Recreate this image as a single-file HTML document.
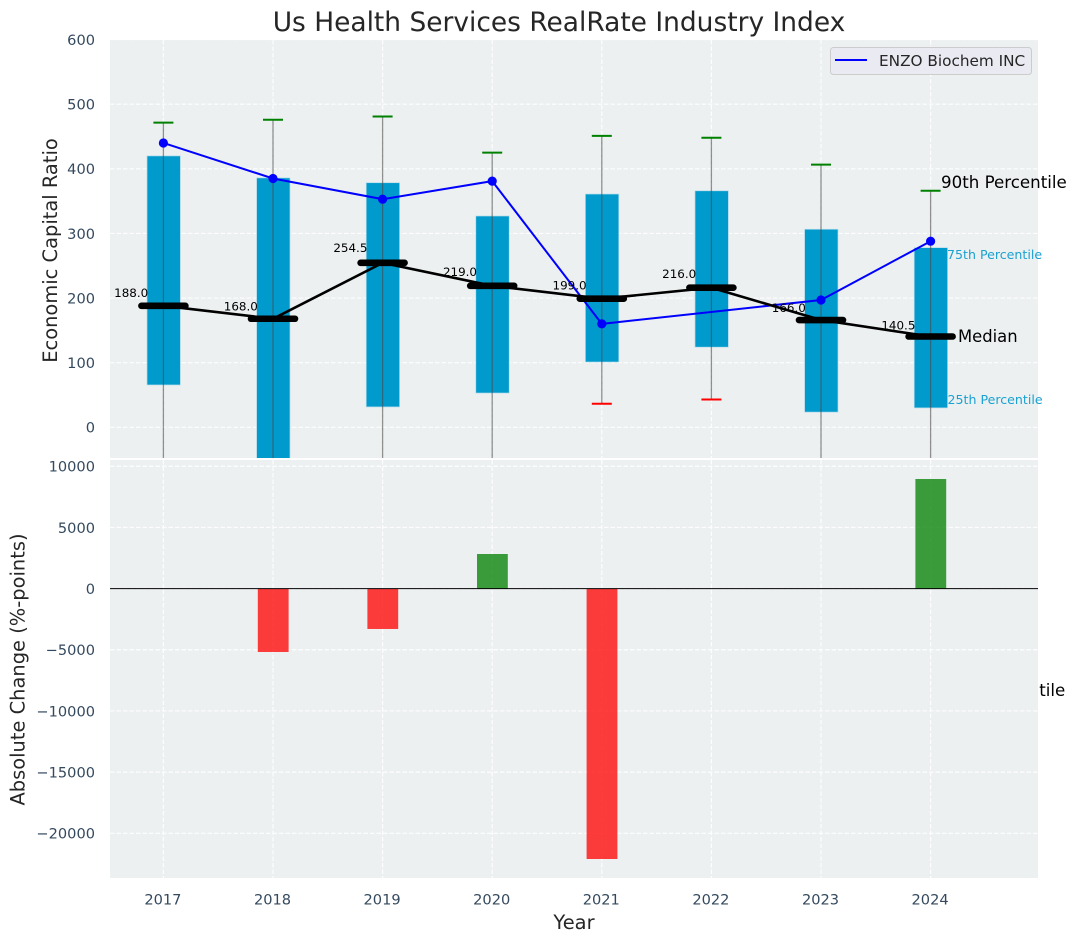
<!DOCTYPE html>
<html lang="en">
<head>
<meta charset="utf-8">
<title>Us Health Services RealRate Industry Index</title>
<style>
html,body{margin:0;padding:0;background:#fff;}
svg{display:block;font-family:"DejaVu Sans","Liberation Sans",sans-serif;}
.tick{fill:#34495e;font-size:14.58px;}
.axis-title{fill:#262626;font-size:19.44px;}
</style>
</head>
<body>
<svg id="chart" xmlns="http://www.w3.org/2000/svg" width="1076" height="942" viewBox="0 0 1076 942">
  <defs>
    <clipPath id="clip-top"><rect x="110" y="40" width="928" height="418"></rect></clipPath>
    <clipPath id="clip-bottom"><rect x="110" y="460" width="928" height="418"></rect></clipPath>
  </defs>
  <rect x="0" y="0" width="1076" height="942" fill="#ffffff"></rect>
  <text x="559" y="31" text-anchor="middle" font-size="26.45" fill="#262626">Us Health Services RealRate Industry Index</text>
  <rect x="110" y="40" width="928" height="418" fill="#ecf0f1"></rect>
  <g id="top-grid"></g>
  <g id="top-marks" clip-path="url(#clip-top)"></g>
  <g id="top-labels"></g>
  <text x="939.5" y="696" font-size="16.67" fill="#000000">10th Percentile</text>
  <rect x="110" y="460" width="928" height="418" fill="#ecf0f1"></rect>
  <g id="bottom-grid"></g>
  <g id="bottom-marks" clip-path="url(#clip-bottom)"></g>
  <line x1="110" x2="1038" y1="588.6" y2="588.6" stroke="#000000" stroke-width="1"></line>
  <g id="axis-labels"></g>
  <text class="axis-title" transform="translate(57,250.5) rotate(-90)" text-anchor="middle">Economic Capital Ratio</text>
  <text class="axis-title" transform="translate(24.5,669.5) rotate(-90)" text-anchor="middle">Absolute Change (%-points)</text>
  <text class="axis-title" x="574" y="929" text-anchor="middle">Year</text>
  <text x="941" y="188" font-size="16.67" fill="#000000">90th Percentile</text>
  <text x="947" y="259" font-size="12.6" fill="#1ba1d0">75th Percentile</text>
  <text x="958" y="342" font-size="16.4" fill="#000000">Median</text>
  <text x="947.5" y="404" font-size="12.6" fill="#1ba1d0">25th Percentile</text>
  <g>
    <rect x="830.5" y="47.5" width="201" height="27" rx="3" fill="#eaeaf2" stroke="#cccccc" stroke-width="1"></rect>
    <line x1="835" x2="867" y1="60" y2="60" stroke="#0000ff" stroke-width="2"></line>
    <text x="879" y="66" font-size="15.28" fill="#262626">ENZO Biochem INC</text>
  </g>
</svg>
<script>
const years = [2017, 2018, 2019, 2020, 2021, 2022, 2023, 2024];
const p90 = [471.5, 476, 481, 425, 451, 448, 406.5, 366];
const p75 = [420, 386, 378.5, 327, 361, 366, 306.5, 278];
const medians = [188, 168, 254.5, 219, 199, 216, 166, 140.5];
const p25 = [65.5, -70, 31.5, 53, 101, 124, 23.5, 30];
const p10 = [-90, -120, -85, -80, 36.5, 43, -70, -75];
const enzo = [440, 385, 353, 381, 160, null, 197, 288];
const changes = [null, -5180, -3300, 2828, -22100, null, null, 8958];
const topTicks = [0, 100, 200, 300, 400, 500, 600];
const bottomTicks = [-20000, -15000, -10000, -5000, 0, 5000, 10000];

const NS = 'http://www.w3.org/2000/svg';
const xScale = v => 163.4 + (v - 2017) * 109.6;
const yTop = v => 427.3 - v * 0.6462;
const yBottom = v => 588.6 - v * 0.012235;

function make(parent, tag, attrs, text) {
  const el = document.createElementNS(NS, tag);
  for (const k in attrs) el.setAttribute(k, attrs[k]);
  if (text !== undefined) el.textContent = text;
  parent.appendChild(el);
  return el;
}

const topGrid = document.getElementById('top-grid');
const bottomGrid = document.getElementById('bottom-grid');
const topMarks = document.getElementById('top-marks');
const bottomMarks = document.getElementById('bottom-marks');
const topLabels = document.getElementById('top-labels');
const axisLabels = document.getElementById('axis-labels');
const gridStyle = {stroke: '#ffffff', 'stroke-width': 1.2, 'stroke-dasharray': '4.5 2', opacity: 0.9};

topTicks.forEach(t => {
  const g = make(topGrid, 'line', Object.assign({x1: 110, x2: 1038, y1: yTop(t), y2: yTop(t)}, gridStyle));
  
  
  const lab = make(axisLabels, 'text', {class: 'tick', x: 95, y: yTop(t) + 5.4, 'text-anchor': 'end'}, String(t));
  
  
});
bottomTicks.forEach(t => {
  const g = make(bottomGrid, 'line', Object.assign({x1: 110, x2: 1038, y1: yBottom(t), y2: yBottom(t)}, gridStyle));
  
  
  const lab = make(axisLabels, 'text', {class: 'tick', x: 95, y: yBottom(t) + 5.4, 'text-anchor': 'end'}, String(t).replace('-', '\u2212'));
  
  
});

years.forEach(y => {
  const x = xScale(y);
  const g1 = make(topGrid, 'line', Object.assign({x1: x, x2: x, y1: 40, y2: 458}, gridStyle));
  
  
  const g2 = make(bottomGrid, 'line', Object.assign({x1: x, x2: x, y1: 460, y2: 878}, gridStyle));
  
  
  const lab = make(axisLabels, 'text', {class: 'tick', x: x - 0.5, y: 904.5, 'text-anchor': 'middle'}, String(y));
  
  
});

years.forEach((y, i) => {
  const x = xScale(y);
  const box = make(topMarks, 'rect', {x: x - 16.4, y: yTop(p75[i]), width: 33.4, height: yTop(p25[i]) - yTop(p75[i]), fill: '#009acd', stroke: '#b5dcea', 'stroke-width': 0.7});
  
  
  const whisker = make(topMarks, 'line', {x1: x, x2: x, y1: yTop(p90[i]), y2: yTop(p10[i]), stroke: '#4a4a4a', 'stroke-width': 1.3, opacity: 0.6});
  
  
  const capHigh = make(topMarks, 'line', {x1: x - 10, x2: x + 10, y1: yTop(p90[i]), y2: yTop(p90[i]), stroke: '#008000', 'stroke-width': 2});
  
  
  const capLow = make(topMarks, 'line', {x1: x - 10, x2: x + 10, y1: yTop(p10[i]), y2: yTop(p10[i]), stroke: '#ff0000', 'stroke-width': 2});
  
  
});

const enzoPts = years.map((y, i) => enzo[i] === null ? null : [xScale(y), yTop(enzo[i])]).filter(Boolean);
const enzoLine = make(topMarks, 'polyline', {points: enzoPts.map(p => p.join(',')).join(' '), fill: 'none', stroke: '#0000ff', 'stroke-width': 2});


enzoPts.forEach(p => {
  const dot = make(topMarks, 'circle', {cx: p[0], cy: p[1], r: 4.6, fill: '#0000ff'});
  
  
});

const medianLine = make(topMarks, 'polyline', {points: years.map((y, i) => xScale(y) + ',' + yTop(medians[i])).join(' '), fill: 'none', stroke: '#000000', 'stroke-width': 2.6});


years.forEach((y, i) => {
  const x = xScale(y);
  const bar = make(topMarks, 'line', {x1: x - 22, x2: x + 22, y1: yTop(medians[i]), y2: yTop(medians[i]), stroke: '#000000', 'stroke-width': 6.6, 'stroke-linecap': 'round'});
  
  
  const lab = make(topLabels, 'text', {x: x - 15.2, y: yTop(medians[i] * 1.05) - 2.6, 'text-anchor': 'end', 'font-size': 11.9, fill: '#000000'}, medians[i].toFixed(1));
  
  
});

years.forEach((y, i) => {
  if (changes[i] === null) return;
  const x = xScale(y);
  const top = Math.min(yBottom(0), yBottom(changes[i]));
  const h = Math.abs(yBottom(changes[i]) - yBottom(0));
  const color = changes[i] >= 0 ? '#008000' : '#ff0000';
  const bar = make(bottomMarks, 'rect', {x: x - 15.2, y: top, width: 30.8, height: h, fill: color, 'fill-opacity': 0.76});
  
  
});
</script>
</body>
</html>
